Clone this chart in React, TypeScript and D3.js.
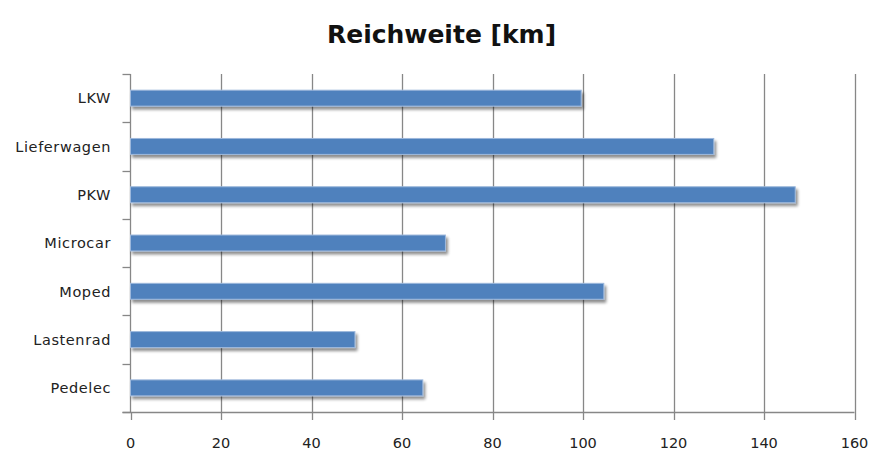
import React, { useEffect, useRef } from "react";
import * as d3 from "d3";

// Reichweite je Fahrzeugklasse
const categories: string[] = ["LKW", "Lieferwagen", "PKW", "Microcar", "Moped", "Lastenrad", "Pedelec"];
const values: number[] = [99.6, 128.9, 146.9, 69.6, 104.6, 49.6, 64.6];
const xTicks: number[] = [0, 20, 40, 60, 80, 100, 120, 140, 160];
const title = "Reichweite [km]";

const W = 871;
const H = 452;
const FONT = "'DejaVu Sans', 'Open Sans', sans-serif";

export default function App() {
  const ref = useRef<SVGSVGElement | null>(null);

  useEffect(() => {
    const svg = d3.select(ref.current);
    svg.selectAll("*").remove();

    const left = 130.5;
    const right = 854.5;
    const top = 74;
    const bottom = 412;
    const axisColor = "#878787";

    const x = d3.scaleLinear().domain([0, 160]).range([left, right]);
    const y = d3
      .scaleBand<string>()
      .domain(categories)
      .range([top, bottom])
      .paddingInner(0.67)
      .paddingOuter(0.335);
    const step = y.step();

    const defs = svg.append("defs");
    const f = defs
      .append("filter")
      .attr("id", "barShadow")
      .attr("x", "-5%")
      .attr("y", "-50%")
      .attr("width", "110%")
      .attr("height", "200%");
    f.append("feGaussianBlur").attr("in", "SourceAlpha").attr("stdDeviation", 1.4).attr("result", "b");
    f.append("feOffset").attr("in", "b").attr("dx", 1.5).attr("dy", 2.5).attr("result", "o");
    f.append("feComponentTransfer")
      .attr("in", "o")
      .attr("result", "s")
      .append("feFuncA")
      .attr("type", "linear")
      .attr("slope", 0.45);
    const m = f.append("feMerge");
    m.append("feMergeNode").attr("in", "s");
    m.append("feMergeNode").attr("in", "SourceGraphic");

    // title
    svg
      .append("text")
      .attr("x", 441.5)
      .attr("y", 42.5)
      .attr("text-anchor", "middle")
      .attr("font-family", FONT)
      .attr("font-weight", 700)
      .attr("font-size", 25)
      .attr("fill", "#111")
      .text(title);

    // vertical gridlines
    svg
      .append("g")
      .selectAll("line")
      .data(xTicks.filter((t) => t > 0))
      .join("line")
      .attr("x1", (d) => Math.round(x(d)) + 0.5)
      .attr("x2", (d) => Math.round(x(d)) + 0.5)
      .attr("y1", top)
      .attr("y2", bottom)
      .attr("stroke", axisColor)
      .attr("stroke-width", 1.3);

    // x axis
    const gx = svg.append("g");
    gx.append("line")
      .attr("x1", left - 8)
      .attr("x2", right)
      .attr("y1", bottom + 0.5)
      .attr("y2", bottom + 0.5)
      .attr("stroke", axisColor)
      .attr("stroke-width", 1.3);
    gx.selectAll("line.tick")
      .data(xTicks)
      .join("line")
      .attr("class", "tick")
      .attr("x1", (d) => Math.round(x(d)) + 0.5)
      .attr("x2", (d) => Math.round(x(d)) + 0.5)
      .attr("y1", bottom)
      .attr("y2", bottom + 8)
      .attr("stroke", axisColor)
      .attr("stroke-width", 1.3);
    gx.selectAll("text")
      .data(xTicks)
      .join("text")
      .attr("x", (d) => x(d))
      .attr("y", 447.5)
      .attr("text-anchor", "middle")
      .attr("font-family", FONT)
      .attr("font-size", 14.5)
      .attr("fill", "#222")
      .text((d) => String(d));

    // y axis
    const gy = svg.append("g");
    gy.append("line")
      .attr("x1", left)
      .attr("x2", left)
      .attr("y1", top)
      .attr("y2", bottom)
      .attr("stroke", axisColor)
      .attr("stroke-width", 1.3);
    const bounds = d3.range(categories.length + 1).map((i) => top + i * step);
    gy.selectAll("line.tick")
      .data(bounds)
      .join("line")
      .attr("class", "tick")
      .attr("x1", left - 8)
      .attr("x2", left)
      .attr("y1", (d) => Math.round(d) + 0.5)
      .attr("y2", (d) => Math.round(d) + 0.5)
      .attr("stroke", axisColor)
      .attr("stroke-width", 1.3);
    gy.selectAll("text")
      .data(categories)
      .join("text")
      .attr("x", 111)
      .attr("y", (d) => (y(d) as number) + y.bandwidth() / 2)
      .attr("dy", "0.36em")
      .attr("text-anchor", "end")
      .attr("font-family", FONT)
      .attr("font-size", 14.5)
      .attr("letter-spacing", 0.6)
      .attr("fill", "#222")
      .text((d) => d);

    // bars
    svg
      .append("g")
      .selectAll("rect")
      .data(categories)
      .join("rect")
      .attr("x", x(0))
      .attr("y", (d) => y(d) as number)
      .attr("width", (_d, i) => x(values[i]) - x(0))
      .attr("height", y.bandwidth())
      .attr("fill", "#4F81BD")
      .attr("stroke", "#9DB8DC")
      .attr("stroke-width", 1)
      .attr("filter", "url(#barShadow)");
  }, []);

  return (
    <svg
      ref={ref}
      width={W}
      height={H}
      style={{ display: "block", position: "absolute", left: 0, top: 0, background: "#fff" }}
    />
  );
}
